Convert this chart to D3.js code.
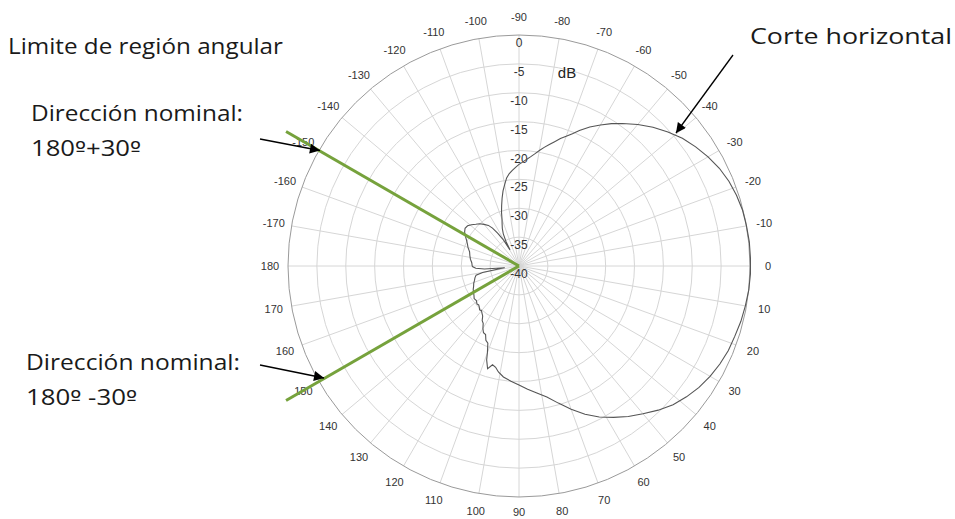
<!DOCTYPE html>
<html>
<head>
<meta charset="utf-8">
<script src="https://cdn.jsdelivr.net/npm/d3@7"></script>
<style>
  html, body { margin: 0; padding: 0; background: #fff; }
  svg { display: block; }
</style>
</head>
<body>
<svg id="chart" width="955" height="519"></svg>
<script>
// Radial dB rings and their labels
const ringLevels = [0, -5, -10, -15, -20, -25, -30, -35, -40];
// Angle labels around the rim (degrees, 0 = right, positive clockwise)
const angleTicks = [-170, -160, -150, -140, -130, -120, -110, -100, -90, -80, -70, -60, -50, -40, -30, -20, -10,
                    0, 10, 20, 30, 40, 50, 60, 70, 80, 90, 100, 110, 120, 130, 140, 150, 160, 170, 180];
// Region boundaries: nominal direction 180º ± 30º
const boundaryAngles = [-150, 150];

// Measured horizontal cut (angle in degrees, level in dB)
const patternAngles = [
  -180, -176, -172, -168, -164, -160, -157, -154, -151, -148, -145, -142, -139, -136, -133, -130,
  -127, -125, -123, -121, -119, -118, -116, -114, -112, -110, -108, -106, -104, -102, -100,
  -98, -96, -94, -92, -90, -88, -86, -84, -82, -80, -78, -76, -74, -72, -70, -68, -66, -63, -60,
  -57, -54, -50, -46, -42, -38, -34, -30, -26, -22, -18, -14, -10, -6, -2,
  2, 6, 10, 14, 18, 22, 26, 30, 34, 38, 42, 46, 50, 54, 58, 62, 66, 70, 74, 78, 82, 86, 90,
  94, 98, 101, 103, 105, 107, 109, 110, 112, 114, 116, 118, 120, 122, 124, 126, 128, 130,
  132, 134, 136, 138, 141, 144, 147, 150, 153, 156, 159, 162, 165, 168, 170, 172, 173, 175, 177, 179
];
const patternDb = [
  -31.9, -31.8, -31.5, -31.3, -31.1, -30.6, -30.3, -29.9, -29.4, -28.9, -28.6, -28.7, -29.1, -29.6, -30.0, -30.6,
  -31.2, -32.0, -33.2, -34.6, -36.8, -35.2, -33.8, -32.9, -32.2, -31.4, -30.2, -29.1, -27.9, -26.7, -25.7,
  -24.6, -23.9, -23.4, -22.9, -22.4, -22.0, -21.5, -21.0, -20.4, -19.7, -19.0, -18.3, -17.6, -16.8, -16.1, -15.3, -14.3, -13.0, -11.8,
  -10.6, -9.5, -8.0, -6.6, -5.3, -4.1, -3.1, -2.2, -1.4, -0.8, -0.4, -0.1, 0.0, 0.1, 0.1,
  0.1, 0.0, -0.2, -0.4, -0.7, -0.9, -1.3, -1.8, -2.4, -3.2, -4.1, -5.3, -6.6, -7.8, -9.1, -10.4, -11.9, -13.6, -15.3, -16.8, -17.8, -18.6, -19.4,
  -20.0, -20.6, -21.3, -22.0, -22.3, -21.4, -22.8, -24.0, -25.6, -25.9, -26.8, -26.9, -27.5, -28.3, -28.6, -29.3, -29.6, -29.9,
  -29.8, -30.1, -30.3, -30.2, -30.5, -30.4, -30.7, -30.9, -31.1, -31.4, -31.6, -31.9, -32.1, -32.4, -33.6, -36.8, -37.5, -34.0, -32.5, -32.0
];

const svg = d3.select("#chart");
const cx = 519, cy = 266, R = 231;
const rScale = d3.scaleLinear().domain([-40, 0]).range([0, R]);
const rad = a => a * Math.PI / 180;
const px = (a, r) => cx + r * Math.cos(rad(a));
const py = (a, r) => cy + r * Math.sin(rad(a));

const plot = svg.append("g");

// Spokes every 10 degrees
plot.append("g").selectAll("line")
  .data(d3.range(0, 360, 10))
  .join("line")
  .attr("x1", cx).attr("y1", cy)
  .attr("x2", d => px(d, R)).attr("y2", d => py(d, R))
  .attr("stroke", "#d6d6d6").attr("stroke-width", 1);

// Rings
plot.append("g").selectAll("circle")
  .data(ringLevels.filter(v => v > -40))
  .join("circle")
  .attr("cx", cx).attr("cy", cy)
  .attr("r", d => rScale(d))
  .attr("fill", "none")
  .attr("stroke", d => d === 0 ? "#9a9a9a" : "#d6d6d6")
  .attr("stroke-width", 1);

// Ring labels along the -90 spoke
plot.append("g").selectAll("text")
  .data(ringLevels)
  .join("text")
  .attr("x", cx).attr("y", d => cy - rScale(d) + 12)
  .attr("text-anchor", "middle")
  .attr("font-family", "Liberation Sans, Arial, sans-serif")
  .attr("font-size", 12)
  .attr("fill", "#333")
  .text(d => d);

svg.append("text")
  .attr("x", 567).attr("y", 78)
  .attr("text-anchor", "middle")
  .attr("font-family", "Liberation Sans, Arial, sans-serif")
  .attr("font-size", 15)
  .attr("fill", "#222")
  .text("dB");

// Angle labels
plot.append("g").selectAll("text")
  .data(angleTicks)
  .join("text")
  .attr("x", d => px(d, R + 18))
  .attr("y", d => Math.min(py(d, R + 18) + 4, 516))
  .attr("text-anchor", "middle")
  .attr("font-family", "Liberation Sans, Arial, sans-serif")
  .attr("font-size", 11)
  .attr("fill", "#333")
  .text(d => d);

// Pattern trace
const pattern = patternAngles.map((a, i) => ({ a, db: patternDb[i] }));
const radial = d3.lineRadial()
  .angle(d => rad(d.a + 90))
  .radius(d => rScale(d.db))
  .curve(d3.curveLinearClosed);
svg.append("path")
  .datum(pattern)
  .attr("transform", `translate(${cx},${cy})`)
  .attr("d", radial)
  .attr("fill", "none")
  .attr("stroke", "#555")
  .attr("stroke-width", 1.1);

// Region boundary lines
svg.append("g").selectAll("line")
  .data(boundaryAngles)
  .join("line")
  .attr("x1", cx).attr("y1", cy)
  .attr("x2", d => px(d, 269)).attr("y2", d => py(d, 269))
  .attr("stroke", "#76a23c").attr("stroke-width", 3);

// Arrows
const defs = svg.append("defs");
defs.append("marker")
  .attr("id", "head")
  .attr("viewBox", "0 0 10 10")
  .attr("refX", 10).attr("refY", 5)
  .attr("markerWidth", 14).attr("markerHeight", 10)
  .attr("markerUnits", "userSpaceOnUse")
  .attr("orient", "auto")
  .append("path").attr("d", "M0,0 L10,5 L0,10 Z").attr("fill", "#000");

const arrows = [
  { x1: 260, y1: 139, x2: px(-150, R) + 1, y2: py(-150, R) },
  { x1: 260, y1: 365, x2: 324, y2: 378 },
  { x1: 733, y1: 55, x2: 676, y2: 133 }
];
svg.append("g").selectAll("line")
  .data(arrows)
  .join("line")
  .attr("x1", d => d.x1).attr("y1", d => d.y1)
  .attr("x2", d => d.x2).attr("y2", d => d.y2)
  .attr("stroke", "#000").attr("stroke-width", 1.3)
  .attr("marker-end", "url(#head)");

// Annotations; the ordinal sign is set in DejaVu Sans so it keeps its underline
const notes = [
  { text: "Limite de región angular", x: 8, y: 54, w: 275 },
  { text: "Dirección nominal:", x: 31, y: 121, w: 212 },
  { text: "180º+30º", x: 31, y: 156, w: 110 },
  { text: "Dirección nominal:", x: 26, y: 370, w: 214 },
  { text: "180º -30º", x: 26, y: 405, w: 111 },
  { text: "Corte horizontal", x: 750, y: 44, w: 202 }
];
const noteText = svg.append("g").selectAll("text")
  .data(notes)
  .join("text")
  .attr("x", d => d.x).attr("y", d => d.y)
  .attr("textLength", d => d.w)
  .attr("lengthAdjust", "spacingAndGlyphs")
  .attr("font-family", "Open Sans, Lato, sans-serif")
  .attr("font-size", 22)
  .attr("fill", "#1a1a1a");
noteText.each(function (d) {
  const t = d3.select(this);
  d.text.split(/(º)/).filter(s => s.length).forEach(part => {
    const span = t.append("tspan").text(part);
    if (part === "º") span.attr("font-family", "DejaVu Sans").attr("font-size", 20);
  });
});
</script>
</body>
</html>
